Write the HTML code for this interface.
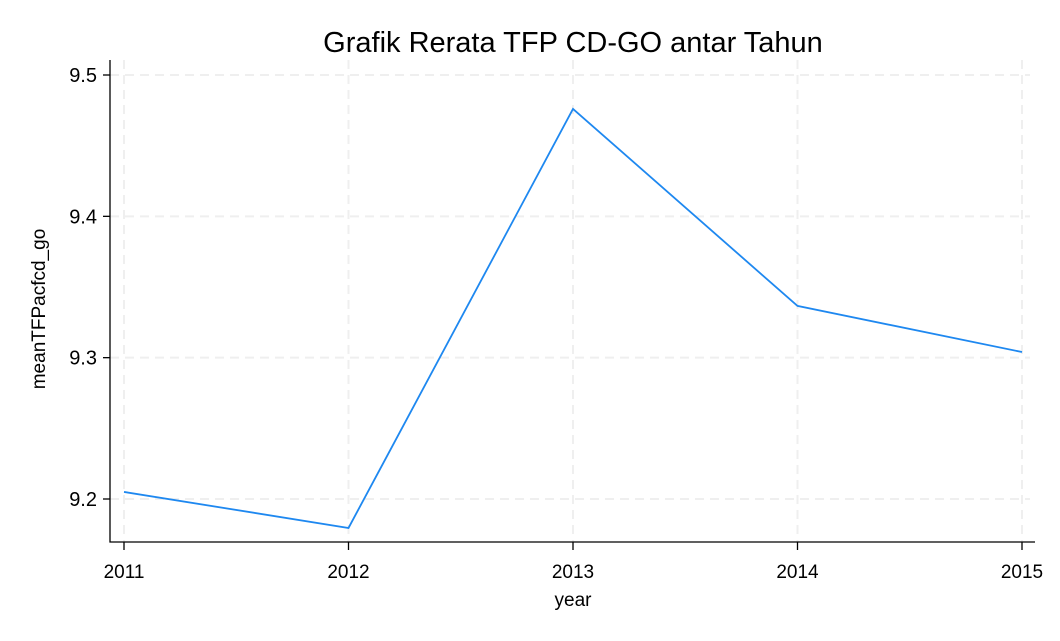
<!DOCTYPE html>
<html><head><meta charset="utf-8"><style>
body{margin:0;background:#fff;font-family:"Liberation Sans",Arial,sans-serif}
</style></head><body>
<svg id="chart" width="1060" height="636" xmlns="http://www.w3.org/2000/svg" font-family="Liberation Sans, Arial, sans-serif">
<rect width="1060" height="636" fill="#fff"/>
<text x="573" y="52" font-size="29" text-anchor="middle" fill="#000">Grafik Rerata TFP CD-GO antar Tahun</text>
<g id="grid"></g><g id="axes"></g><g id="series"></g>
<text x="573" y="606" font-size="19" text-anchor="middle">year</text>
<text transform="translate(45,309) rotate(-90)" font-size="19" text-anchor="middle">meanTFPacfcd_go</text>
</svg>
<script>
const years=[2011,2012,2013,2014,2015];
const values=[9.205,9.1795,9.476,9.3366,9.304];
const yTicks=[9.2,9.3,9.4,9.5];
const yTickLabels=["9.2","9.3","9.4","9.5"];
const NS="http://www.w3.org/2000/svg";
const plotL=110,plotR=1035,plotT=60,plotB=542;
const xs=v=>124+(v-2011)*(1022-124)/4;
const ys=v=>499-(v-9.2)*(499-75)/0.3;
function mk(tag,attrs,parent,text){const e=document.createElementNS(NS,tag);for(const k in attrs)e.setAttribute(k,attrs[k]);if(text!=null)e.textContent=text;parent.appendChild(e);return e;}
const grid=document.getElementById('grid'),axes=document.getElementById('axes'),series=document.getElementById('series');
yTicks.forEach((t,i)=>{
 const g=mk('line',{x1:plotL,x2:plotR-5,y1:ys(t),y2:ys(t),stroke:'#efefef','stroke-width':2,'stroke-dasharray':'9,6'},grid);
 
 
 const tk=mk('line',{x1:plotL-7,x2:plotL,y1:ys(t),y2:ys(t),stroke:'#000','stroke-width':1.3},axes);
 
 
 const lb=mk('text',{x:plotL-13,y:ys(t)+7,'font-size':20,'text-anchor':'end'},axes,yTickLabels[i]);
 
 
});
years.forEach(y=>{
 const g=mk('line',{x1:xs(y),x2:xs(y),y1:plotT,y2:plotB,stroke:'#efefef','stroke-width':2,'stroke-dasharray':'9,6'},grid);
 
 
 const tk=mk('line',{x1:xs(y),x2:xs(y),y1:plotB,y2:plotB+8,stroke:'#000','stroke-width':1.3},axes);
 
 
 const lb=mk('text',{x:xs(y),y:578,'font-size':19,'text-anchor':'middle'},axes,String(y));
 
 
});
const ax=mk('path',{d:`M${plotL},${plotT} V${plotB} H${plotR}`,fill:'none',stroke:'#000','stroke-width':1.3},axes);


const ln=mk('polyline',{points:years.map((y,i)=>xs(y)+','+ys(values[i])).join(' '),fill:'none',stroke:'#1e88f0','stroke-width':1.8},series);


</script>
</body></html>
